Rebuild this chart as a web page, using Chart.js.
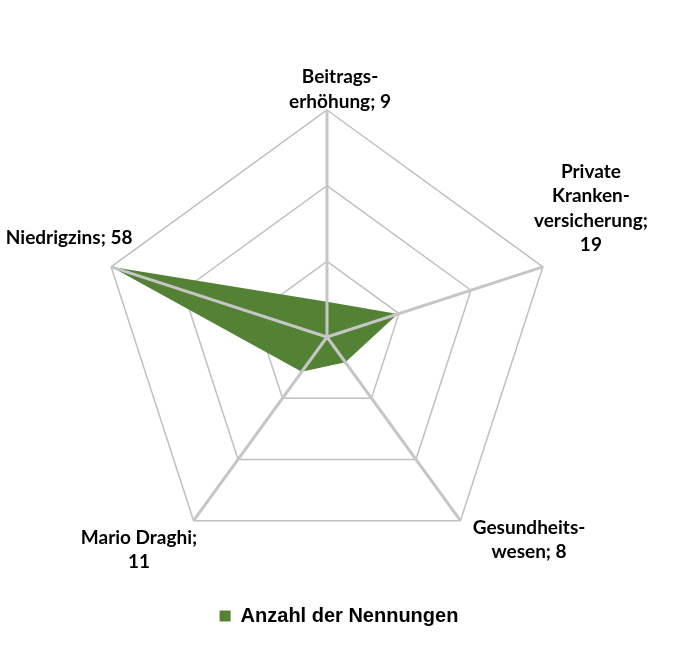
<!DOCTYPE html>
<html>
<head>
<meta charset="utf-8">
<script src="https://cdn.jsdelivr.net/npm/chart.js@4.4.1/dist/chart.umd.min.js"></script>
<style>
  html, body { margin: 0; padding: 0; background: #ffffff; }
  #wrap { width: 700px; height: 664px; }
</style>
</head>
<body>
<div id="wrap"><canvas id="c" width="700" height="664"></canvas></div>
<script>
// Categories, counts and the text shown at each spoke
const categories = ['Beitragserhöhung', 'Private Krankenversicherung', 'Gesundheitswesen', 'Mario Draghi', 'Niedrigzins'];
const nennungen = [9, 19, 8, 11, 58];
const labelLines = [
  ['Beitrags-', 'erhöhung;'],
  ['Private', 'Kranken-', 'versicherung;'],
  ['Gesundheits-', 'wesen;'],
  ['Mario Draghi;'],
  ['Niedrigzins;']
];
const valueOnNewLine = [false, true, false, true, false];
const seriesName = 'Anzahl der Nennungen';
const scaleMax = 58;

// Full text block per spoke: name lines plus the count
const spokeTexts = labelLines.map((lines, i) => {
  const out = lines.slice();
  if (valueOnNewLine[i]) out.push(String(nennungen[i]));
  else out[out.length - 1] = out[out.length - 1] + ' ' + nennungen[i];
  return out;
});

// Offset of each text block's centre from its outer vertex
const labelOffsets = [[13, -20.5], [48, -58.5], [68.6, 19], [-54.6, 29], [-42, -29]];
const LABEL_FONT = '700 19px Lato';
const LABEL_LINE = 24.5;

const GREEN = 'rgb(84,130,53)';

// Spokes are drawn over the filled area
const spokesOnTop = {
  id: 'spokesOnTop',
  afterDatasetsDraw(chart) {
    const s = chart.scales.r;
    const ctx = chart.ctx;
    ctx.save();
    ctx.strokeStyle = '#c6c6c6';
    ctx.lineWidth = 3;
    for (let i = 0; i < categories.length; i++) {
      const p = s.getPointPosition(i, s.drawingArea);
      ctx.beginPath();
      ctx.moveTo(s.xCenter, s.yCenter);
      ctx.lineTo(p.x, p.y);
      ctx.stroke();
    }
    ctx.restore();
  }
};

// Spoke captions with their counts
const spokeCaptions = {
  id: 'spokeCaptions',
  afterDraw(chart) {
    const s = chart.scales.r;
    const ctx = chart.ctx;
    ctx.save();
    ctx.font = LABEL_FONT;
    ctx.fillStyle = '#000000';
    ctx.textAlign = 'center';
    ctx.textBaseline = 'middle';
    spokeTexts.forEach((lines, i) => {
      const p = s.getPointPosition(i, s.drawingArea);
      const cx = p.x + labelOffsets[i][0];
      const cy = p.y + labelOffsets[i][1];
      const n = lines.length;
      lines.forEach((t, k) => {
        ctx.fillText(t, cx, cy + (k - (n - 1) / 2) * LABEL_LINE);
      });
    });
    ctx.restore();
  }
};

// Nudge the legend a little to the right of the plot centre
const legendShift = {
  id: 'legendShift',
  afterLayout(chart) {
    const lg = chart.legend;
    if (lg) { lg.left += 12; lg.right += 12; }
  }
};

new Chart(document.getElementById('c'), {
  type: 'radar',
  data: {
    labels: categories,
    datasets: [{
      label: seriesName,
      data: nennungen,
      backgroundColor: GREEN,
      borderColor: GREEN,
      borderWidth: 0,
      pointRadius: 0,
      pointHoverRadius: 0,
      fill: true
    }]
  },
  options: {
    responsive: false,
    animation: false,
    layout: { padding: { left: 100, right: 146, top: 79, bottom: 28 } },
    scales: {
      r: {
        min: 0,
        max: scaleMax,
        ticks: { display: false, count: 4 },
        pointLabels: { display: false },
        angleLines: { display: false },
        grid: { color: '#c0c0c0', lineWidth: 1.5, circular: false }
      }
    },
    plugins: {
      tooltip: { enabled: false },
      legend: {
        position: 'bottom',
        labels: {
          boxWidth: 11,
          boxHeight: 11,
          padding: 10,
          color: '#000000',
          font: { family: 'Liberation Sans', size: 20, weight: 'bold' }
        }
      }
    }
  },
  plugins: [spokesOnTop, spokeCaptions, legendShift]
});
</script>
</body>
</html>
